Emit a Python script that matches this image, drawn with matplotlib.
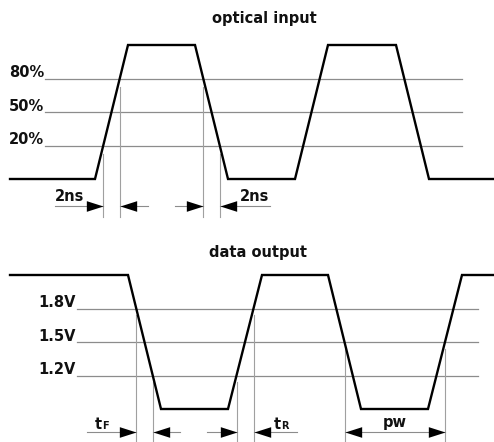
import matplotlib
matplotlib.use("Agg")
import matplotlib.pyplot as plt
import numpy as np

# ---------------- data ----------------
# optical input waveform (time, level 0..4)
opt_t = [10, 95, 128, 195, 228, 295, 328, 396, 429, 493]
opt_lv = [0, 0, 4, 4, 0, 0, 4, 4, 0, 0]
opt_levels = [1, 2, 3]
opt_labels = ["20%", "50%", "80%"]

# data output waveform
out_t = [10, 128, 161, 228, 262, 328, 361, 428, 462, 494]
out_lv = [4, 4, 0, 0, 4, 4, 0, 0, 4, 4]
out_levels = [1, 2, 3]
out_labels = ["1.2V", "1.5V", "1.8V"]

titles = ["optical input", "data output"]

# ---------------- style ----------------
FONT = "DejaVu Sans"
GRAY = "#8c8c8c"
VGRAY = "#a0a0a0"
W, H = 494, 442

fig = plt.figure(figsize=(W / 100, H / 100), dpi=100)
axT = fig.add_axes([0, 0.5, 1, 0.5])
axB = fig.add_axes([0, 0, 1, 0.5])

PX = 33.5  # px per level
def lvT(y):
    return (179 - y) / PX
def lvB(y):
    return (409 - y) / PX

axT.set_xlim(0, W)
axT.set_ylim(lvT(221), lvT(0))
axB.set_xlim(0, W)
axB.set_ylim(lvB(442), lvB(221))
for ax in (axT, axB):
    ax.axis("off")


def crossing(t, lv, i, level):
    t0, t1 = t[i], t[i + 1]
    l0, l1 = lv[i], lv[i + 1]
    return t0 + (level - l0) / (l1 - l0) * (t1 - t0)


def head(ax, x, y, direction):
    if direction > 0:
        verts = [(0, 0), (-1, 0.32), (-1, -0.32), (0, 0)]
    else:
        verts = [(0, 0), (1, 0.32), (1, -0.32), (0, 0)]
    ax.plot([x], [y], marker=verts, markersize=24, color="black",
            markeredgewidth=0, linestyle="none", zorder=5)


txt = dict(fontfamily=FONT, fontweight="bold", fontsize=10.5, color="#111111")

# ---------------- top panel ----------------
for lv_, lab in zip(opt_levels, opt_labels):
    axT.plot([45, 462], [lv_, lv_], color=GRAY, lw=0.9, zorder=1)
    axT.text(44, lv_ + 0.04, lab, ha="right", va="baseline", **txt)
axT.plot(opt_t, opt_lv, color="black", lw=1.7, zorder=4, solid_joinstyle="miter")
axT.text(264, lvT(23), titles[0], ha="center", va="baseline", **txt)

xr20 = crossing(opt_t, opt_lv, 1, 1)
xr80 = crossing(opt_t, opt_lv, 1, 3)
xf80 = crossing(opt_t, opt_lv, 3, 3)
xf20 = crossing(opt_t, opt_lv, 3, 1)
for x, l in [(xr20, 1), (xr80, 3), (xf80, 3), (xf20, 1)]:
    axT.plot([x, x], [l - 0.25, lvT(217)], color=VGRAY, lw=0.8, zorder=1)

ya = lvT(206)
axT.plot([55, xr20], [ya, ya], color=GRAY, lw=0.8)
head(axT, xr20, ya, +1)
axT.plot([xr80, 148], [ya, ya], color=GRAY, lw=0.8)
head(axT, xr80, ya, -1)
axT.plot([175, xf80], [ya, ya], color=GRAY, lw=0.8)
head(axT, xf80, ya, +1)
axT.plot([xf20, 270], [ya, ya], color=GRAY, lw=0.8)
head(axT, xf20, ya, -1)
axT.text(84, lvT(201), "2ns", ha="right", va="baseline", **txt)
axT.text(240, lvT(201), "2ns", ha="left", va="baseline", **txt)

# ---------------- bottom panel ----------------
for lv_, lab in zip(out_levels, out_labels):
    axB.plot([77, 478], [lv_, lv_], color=GRAY, lw=0.9, zorder=1)
    axB.text(76, lv_ + 0.04, lab, ha="right", va="baseline", **txt)
axB.plot(out_t, out_lv, color="black", lw=1.7, zorder=4, solid_joinstyle="miter")
axB.text(258, lvB(257), titles[1], ha="center", va="baseline", **txt)

xf18 = crossing(out_t, out_lv, 1, 3)
xf12 = crossing(out_t, out_lv, 1, 1)
xr12 = crossing(out_t, out_lv, 3, 1)
xr18 = crossing(out_t, out_lv, 3, 3)
xpw1 = crossing(out_t, out_lv, 5, 2)
xpw2 = crossing(out_t, out_lv, 7, 2)
for x, l in [(xf18, 3), (xf12, 1), (xr12, 1), (xr18, 3), (xpw1, 2), (xpw2, 2)]:
    axB.plot([x, x], [l - 0.2, lvB(442)], color=VGRAY, lw=0.8, zorder=1)

yb = lvB(432)
axB.plot([87, xf18], [yb, yb], color=GRAY, lw=0.8)
head(axB, xf18, yb, +1)
axB.plot([xf12, 180], [yb, yb], color=GRAY, lw=0.8)
head(axB, xf12, yb, -1)
axB.plot([207, xr12], [yb, yb], color=GRAY, lw=0.8)
head(axB, xr12, yb, +1)
axB.plot([xr18, 297], [yb, yb], color=GRAY, lw=0.8)
head(axB, xr18, yb, -1)
axB.plot([xpw1, xpw2], [yb, yb], color=GRAY, lw=0.8)
head(axB, xpw1, yb, -1)
head(axB, xpw2, yb, +1)

small = dict(txt)
small["fontsize"] = 7
axB.text(95, lvB(429), "t", ha="left", va="baseline", **txt)
axB.text(102.5, lvB(429), "F", ha="left", va="baseline", **small)
axB.text(274, lvB(429), "t", ha="left", va="baseline", **txt)
axB.text(281.5, lvB(429), "R", ha="left", va="baseline", **small)
axB.text((xpw1 + xpw2) / 2, lvB(427), "pw", ha="center", va="baseline", **txt)

fig.savefig("out.png", dpi=100, facecolor="white")
